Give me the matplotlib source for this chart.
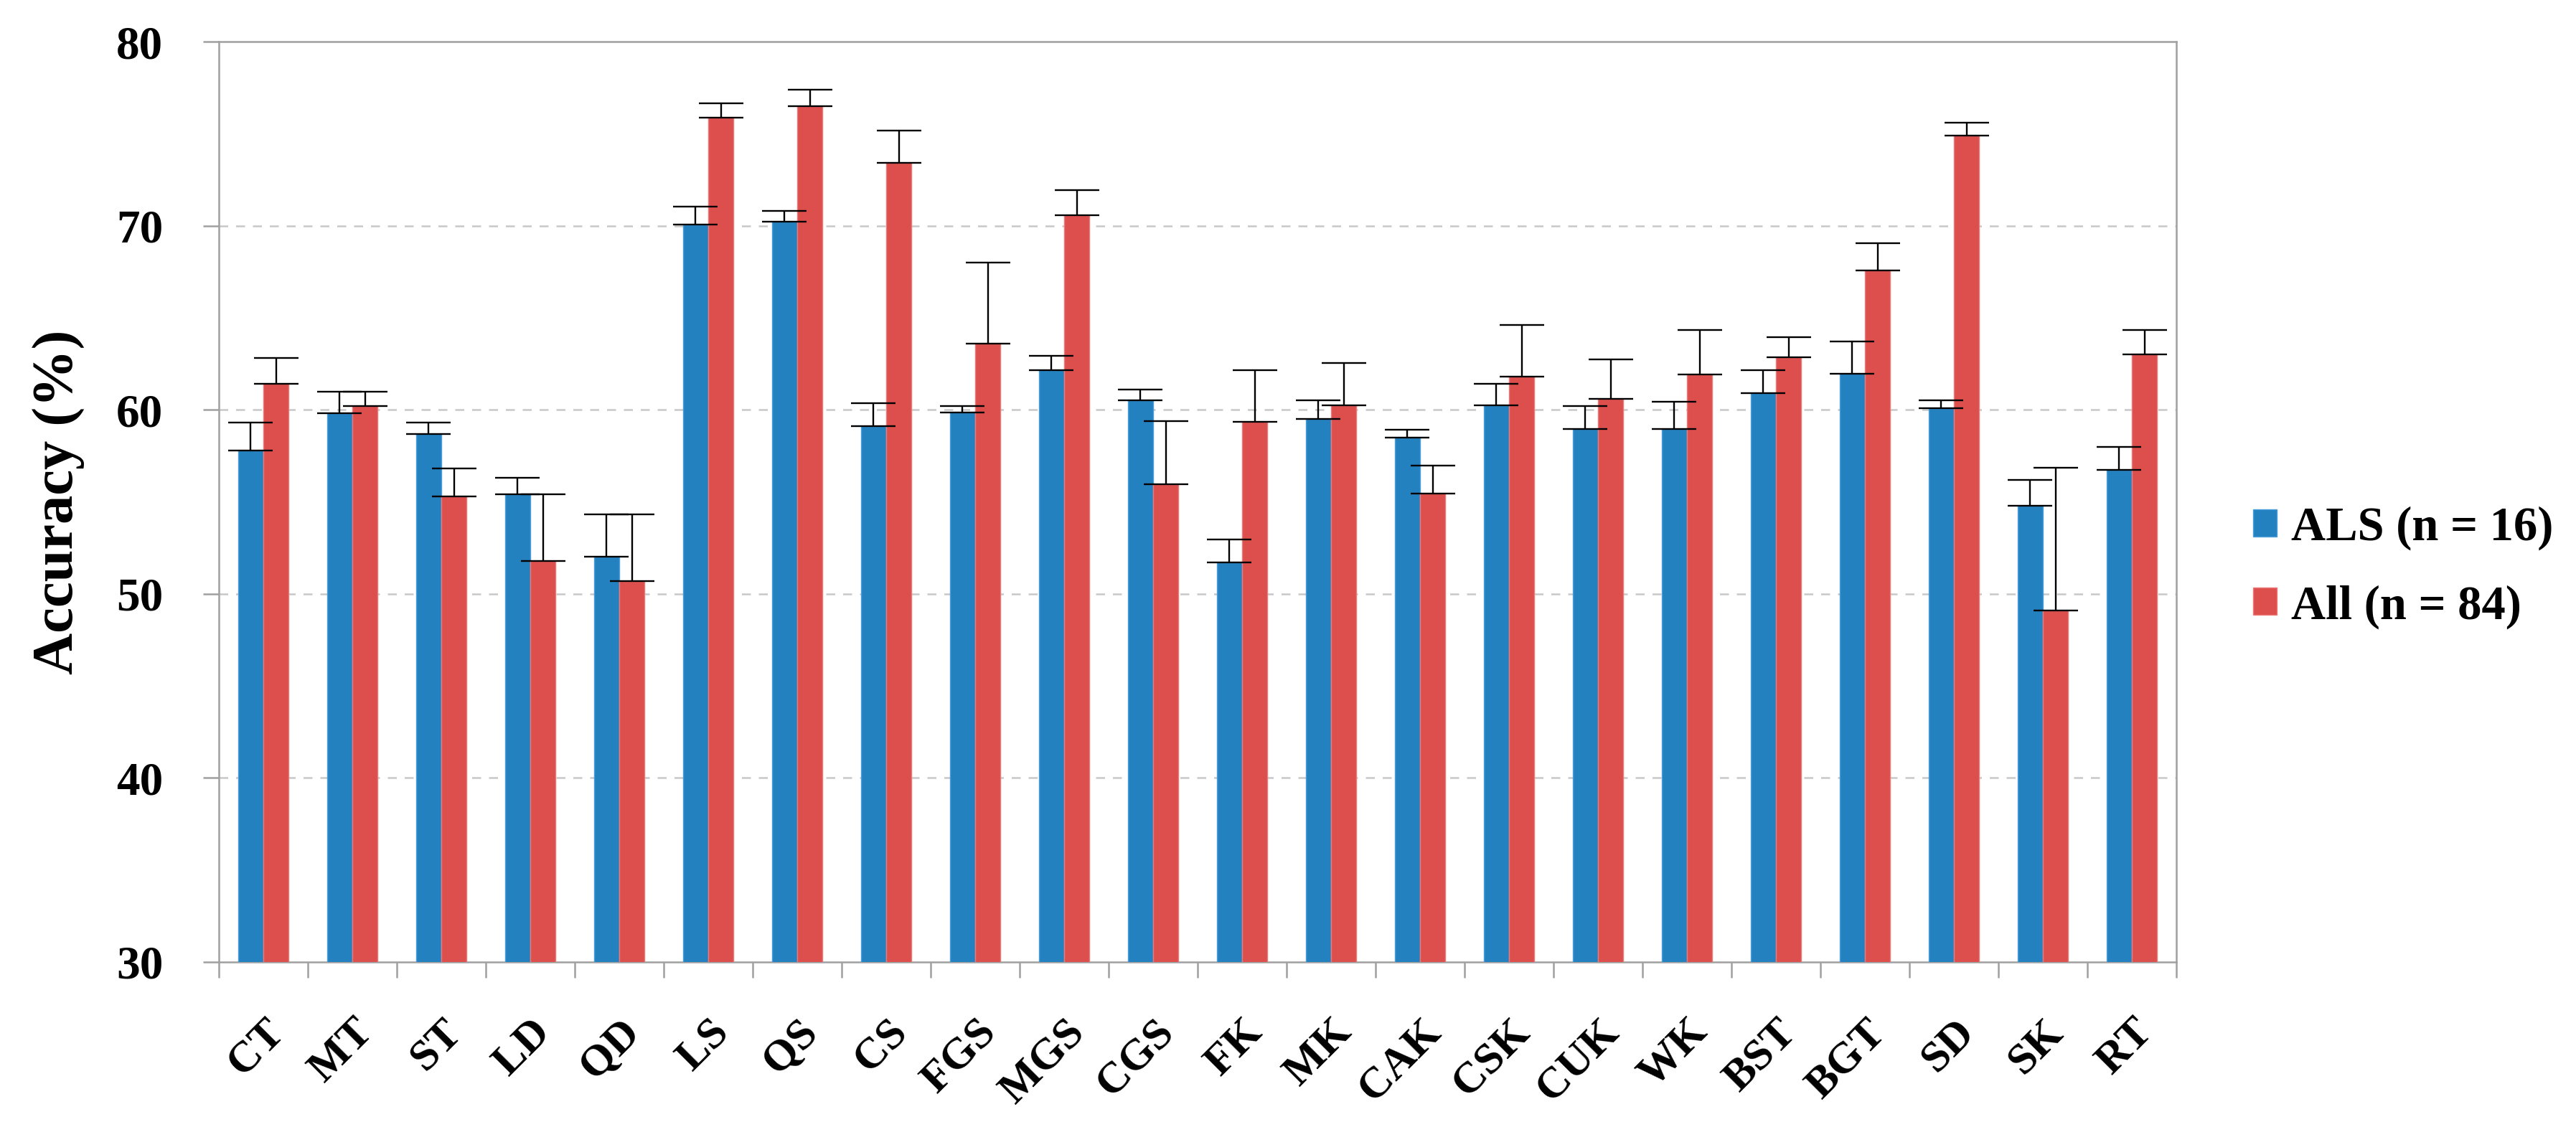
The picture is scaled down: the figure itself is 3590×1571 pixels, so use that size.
import matplotlib
matplotlib.use("Agg")
import matplotlib.pyplot as plt
import numpy as np

categories = ["CT", "MT", "ST", "LD", "QD", "LS", "QS", "CS", "FGS", "MGS", "CGS",
              "FK", "MK", "CAK", "CSK", "CUK", "WK", "BST", "BGT", "SD", "SK", "RT"]
als_values = [57.8, 59.8, 58.7, 55.4, 52.0, 70.05, 70.2, 59.1, 59.85, 62.15, 60.5,
              51.7, 59.5, 58.5, 60.25, 58.95, 58.95, 60.9, 61.95, 60.1, 54.8, 56.75]
als_errors = [1.5, 1.2, 0.6, 0.9, 2.3, 1.0, 0.6, 1.25, 0.35, 0.8, 0.6,
              1.25, 1.0, 0.4, 1.15, 1.25, 1.5, 1.25, 1.75, 0.4, 1.4, 1.25]
all_values = [61.4, 60.2, 55.3, 51.8, 50.7, 75.85, 76.5, 73.4, 63.6, 70.55, 55.95,
              59.35, 60.25, 55.45, 61.8, 60.6, 61.9, 62.85, 67.55, 74.9, 49.1, 63.0]
all_errors = [1.4, 0.8, 1.5, 3.6, 3.6, 0.8, 0.87, 1.77, 4.4, 1.4, 3.45,
              2.8, 2.3, 1.5, 2.8, 2.15, 2.45, 1.1, 1.5, 0.7, 7.75, 1.35]
series_labels = ["ALS (n = 16)", "All (n = 84)"]
y_ticks = [30, 40, 50, 60, 70, 80]

plt.rcParams['font.family'] = ['Liberation Serif', 'DejaVu Serif']
plt.rcParams['font.weight'] = 'bold'

W, H, DPI = 3590, 1571, 100
fig = plt.figure(figsize=(W / DPI, H / DPI), dpi=DPI)
ax = fig.add_axes([305 / W, 1 - 1341 / H, (3033 - 305) / W, (1341 - 58) / H])

x = np.arange(len(categories))
bw = 0.285
blue = '#2481C0'
red = '#DC4F4D'
err_kw = dict(ecolor='black', elinewidth=1.7, capsize=22, capthick=1.7)

ax.bar(x - bw / 2, als_values, bw, color=blue, edgecolor='#4A9FDA', linewidth=1.0,
       label=series_labels[0], zorder=3,
       yerr=[np.zeros(len(als_errors)), als_errors], error_kw=err_kw)
ax.bar(x + bw / 2, all_values, bw, color=red, edgecolor='#EE7B7A', linewidth=1.0,
       label=series_labels[1], zorder=3,
       yerr=[np.zeros(len(all_errors)), all_errors], error_kw=err_kw)

ax.set_xlim(-0.5, len(categories) - 0.5)
ax.set_ylim(30, 80)
ax.set_yticks(y_ticks)
ax.set_yticklabels([str(v) for v in y_ticks], fontsize=47, fontweight='bold')
ax.set_xticks(x)
ax.set_xticklabels(categories, fontsize=44, fontweight='bold', rotation=45,
                   ha='right', va='top', rotation_mode='anchor')
ax.set_xticks(np.arange(-0.5, len(categories), 1.0), minor=True)

spine_c = '#A0A0A0'
for s in ax.spines.values():
    s.set_color(spine_c)
    s.set_linewidth(1.8)

ax.tick_params(axis='x', which='major', length=0, pad=50)
ax.tick_params(axis='x', which='minor', length=16, width=1.8, color=spine_c, direction='out')
ax.tick_params(axis='y', which='major', length=16, width=1.8, color=spine_c,
               direction='out', pad=40)

for v in y_ticks[1:-1]:
    ax.axhline(v, color='#C8C8C8', linewidth=1.8, linestyle=(0, (5, 4.4)), zorder=1)

ax.set_ylabel("Accuracy (%)", fontsize=58, fontweight='bold')
ax.yaxis.set_label_coords(-0.068, 0.5)

leg = fig.legend(loc='center left', bbox_to_anchor=(3140 / W, 1 - 791 / H),
                 frameon=False, fontsize=48, handlelength=0.5, handleheight=0.5,
                 handletextpad=0.3, labelspacing=0.72, borderpad=0, borderaxespad=0)
for t in leg.get_texts():
    t.set_fontweight('bold')

fig.savefig("out.png", dpi=DPI)
